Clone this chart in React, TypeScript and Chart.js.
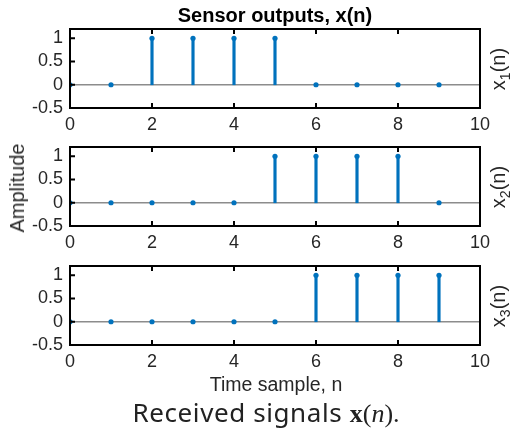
import React, { useEffect, useRef } from 'react';
import { Chart, registerables } from 'chart.js';

Chart.register(...registerables);

// ---- data ----
const samples = [0, 1, 2, 3, 4, 5, 6, 7, 8, 9];
const x1 = [0, 0, 1, 1, 1, 1, 0, 0, 0, 0];
const x2 = [0, 0, 0, 0, 0, 1, 1, 1, 1, 0];
const x3 = [0, 0, 0, 0, 0, 0, 1, 1, 1, 1];
const xTicks = [0, 2, 4, 6, 8, 10];
const yTicks = [-0.5, 0, 0.5, 1];
const xRange = [0, 10];
const yRange = [-0.5, 1.2];
const seriesLabels = ['1', '2', '3'];

const BLUE = '#0072BD';
const AXIS = '#262626';
const FONT = '"Liberation Sans", Arial, Helvetica, sans-serif';

const AREA_LEFT = 70;
const AREA_RIGHT = 480;
const AREA_H = 79;
const PAD_TOP = 22;
const X_AXIS_H = 31;
const CANVAS_H = PAD_TOP + AREA_H + X_AXIS_H;
const subplotTops = [29, 147, 266];

const boxPlugin = {
  id: 'matlabBox',
  afterDraw(chart: any) {
    const { ctx, chartArea: a, scales } = chart;
    ctx.save();
    ctx.strokeStyle = '#000';
    const tl = 5;
    ctx.beginPath();
    for (const v of xTicks) {
      const px = scales.x.getPixelForValue(v);
      ctx.moveTo(px, a.bottom);
      ctx.lineTo(px, a.bottom - tl);
      ctx.moveTo(px, a.top);
      ctx.lineTo(px, a.top + tl);
    }
    for (const v of yTicks) {
      const py = scales.y.getPixelForValue(v);
      ctx.moveTo(a.left, py);
      ctx.lineTo(a.left + tl, py);
    }
    ctx.lineWidth = 2;
    ctx.stroke();
    ctx.strokeRect(a.left, a.top, a.right - a.left, a.bottom - a.top);
    ctx.restore();
  },
};

function Subplot({ values, top }: { values: number[]; top: number }) {
  const ref = useRef<HTMLCanvasElement | null>(null);
  useEffect(() => {
    if (!ref.current) return;
    const pts = samples.map((n, i) => ({ x: n, y: values[i] }));
    const chart = new Chart(ref.current, {
      type: 'bar',
      data: {
        datasets: [
          {
            type: 'line',
            data: [
              { x: xRange[0], y: 0 },
              { x: xRange[1], y: 0 },
            ],
            borderColor: '#8c8c8c',
            borderWidth: 1.5,
            pointRadius: 0,
            order: 3,
          } as any,
          {
            type: 'bar',
            data: pts,
            backgroundColor: BLUE,
            barThickness: 2.5,
            grouped: false,
            order: 2,
          } as any,
          {
            type: 'scatter',
            data: pts,
            backgroundColor: BLUE,
            borderColor: BLUE,
            borderWidth: 0,
            pointRadius: 2.6,
            showLine: false,
            clip: 0,
            order: 1,
          } as any,
        ],
      },
      options: {
        responsive: false,
        animation: false,
        events: [],
        layout: { padding: { top: PAD_TOP, right: 516 - AREA_RIGHT, left: 0, bottom: 0 } },
        plugins: { legend: { display: false }, tooltip: { enabled: false } },
        scales: {
          x: {
            type: 'linear',
            min: xRange[0],
            max: xRange[1],
            offset: false,
            grid: { display: false, drawTicks: false },
            border: { display: false },
            ticks: {
              color: AXIS,
              font: { family: FONT, size: 18 },
              padding: 6,
              maxRotation: 0,
              autoSkip: false,
              callback: (v: any) => String(v),
            },
            afterBuildTicks: (s: any) => {
              s.ticks = xTicks.map((v) => ({ value: v }));
            },
            afterFit: (s: any) => {
              s.height = X_AXIS_H;
            },
          },
          y: {
            type: 'linear',
            min: yRange[0],
            max: yRange[1],
            grid: { display: false, drawTicks: false },
            border: { display: false },
            ticks: {
              color: AXIS,
              font: { family: FONT, size: 18 },
              padding: 7,
              autoSkip: false,
              callback: (v: any) => String(v),
            },
            afterBuildTicks: (s: any) => {
              s.ticks = yTicks.map((v) => ({ value: v }));
            },
            afterFit: (s: any) => {
              s.width = AREA_LEFT;
            },
          },
        },
      } as any,
      plugins: [boxPlugin],
    });
    return () => chart.destroy();
  }, [values]);
  return (
    <canvas
      ref={ref}
      width={516}
      height={CANVAS_H}
      style={{ position: 'absolute', left: 0, top: top - PAD_TOP, width: 516, height: CANVAS_H, display: 'block' }}
    />
  );
}

const textBase: React.CSSProperties = {
  position: 'absolute',
  whiteSpace: 'nowrap',
  color: AXIS,
  fontFamily: FONT,
  lineHeight: 1,
};

export default function App() {
  const series = [x1, x2, x3];
  return (
    <div style={{ position: 'fixed', left: 0, top: 0, width: 516, height: 428, background: '#fff', overflow: 'hidden' }}>
      {series.map((s, i) => (
        <Subplot key={i} values={s} top={subplotTops[i]} />
      ))}
      <div
        style={{ ...textBase, left: 275, top: 15, transform: 'translate(-50%,-50%)', fontWeight: 'bold', fontSize: 20, color: '#000' }}
      >
        Sensor outputs, x(n)
      </div>
      {seriesLabels.map((lab, i) => (
        <div
          key={lab}
          style={{
            ...textBase,
            left: 500,
            top: subplotTops[i] + AREA_H / 2,
            transform: 'translate(-50%,-50%) rotate(-90deg)',
            fontSize: 20,
          }}
        >
          x<sub style={{ fontSize: 14, verticalAlign: '-0.35em', lineHeight: 1 }}>{lab}</sub>(n)
        </div>
      ))}
      <div
        style={{ ...textBase, left: 17, top: 188, transform: 'translate(-50%,-50%) rotate(-90deg)', fontSize: 20 }}
      >
        Amplitude
      </div>
      <div style={{ ...textBase, left: 276, top: 385, transform: 'translate(-50%,-50%)', fontSize: 19.5 }}>
        Time sample, n
      </div>
      <div
        style={{
          ...textBase,
          left: 266,
          top: 413,
          transform: 'translate(-50%,-50%)',
          fontSize: 26,
          fontFamily: '"Noto Sans", sans-serif',
          fontWeight: 400,
          letterSpacing: 0.6,
          color: '#222',
        }}
      >
        Received signals{' '}
        <span style={{ fontFamily: '"Liberation Serif", serif', fontWeight: 'bold', letterSpacing: 0 }}>x</span>
        <span style={{ fontFamily: '"Liberation Serif", serif', letterSpacing: 0 }}>
          (<i>n</i>).
        </span>
      </div>
    </div>
  );
}
